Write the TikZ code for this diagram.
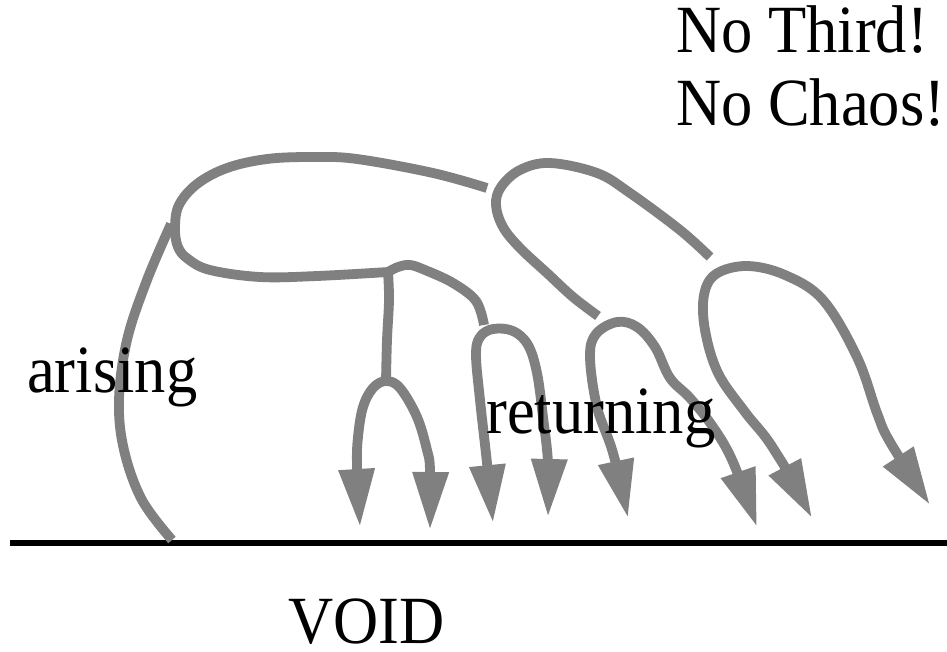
\documentclass[tikz,border=0pt]{standalone}
\usepackage{fontspec}
\setmainfont{Liberation Serif}
\usetikzlibrary{arrows.meta}
\definecolor{flowgray}{RGB}{128,128,128}
\newcommand{\tallword}[1]{\scalebox{1}[1.08]{#1}}
\begin{document}
\begin{tikzpicture}[x=1pt,y=-1pt,
  flow/.style={draw=flowgray, line width=9.8pt, line cap=butt, line join=round},
  onetip/.style={-{Triangle[width=34pt,length=58pt]}},
  twotips/.style={{Triangle[width=34pt,length=58pt]}-{Triangle[width=34pt,length=58pt]}},
  lbl/.style={font=\fontsize{62.5}{70}\selectfont, inner sep=0pt, text=black}]
\useasboundingbox (0,0) rectangle (947,651);
% named points
\coordinate (g0) at (10,543);
\coordinate (g1) at (947,543);
\coordinate (foot) at (172,540);
\coordinate (join) at (171,224);
\coordinate (arcEnd) at (487,188);
\coordinate (junc) at (388,272);
\coordinate (fork) at (386,381);
\coordinate (branchEnd) at (484,325);
\coordinate (tipA) at (360,527);
\coordinate (tipB) at (430,530);
\coordinate (tipC) at (493,523);
\coordinate (tipD) at (548,517);
\coordinate (tipE) at (628,518);
\coordinate (tipF) at (757,527);
\coordinate (tipG) at (812,518);
\coordinate (tipH) at (930,505);
\coordinate (sTop) at (710,257);
\coordinate (sLow) at (598,316);
% ground line
\draw[line width=5.5pt, black] (g0) -- (g1);
% arising
\draw[flow] plot[smooth, tension=0.6] coordinates {(foot) (142,500) (124,450) (119,400) (127,340) (147,280) (join)};
% big loop
\draw[flow] plot[smooth, tension=0.6] coordinates {(arcEnd) (433,173) (357,159) (313,157) (267,159) (227,168) (197,184) (179,205) (175,228) (178,247) (188,259) (210,270) (260,277) (317,276) (junc)};
% stem
\draw[flow] plot[smooth, tension=0.6] coordinates {(junc) (389,300) (387,340) (fork)};
% branch to hump 2
\draw[flow] plot[smooth, tension=0.6] coordinates {(junc) (398,267) (410,265) (425,270) (453,283) (476,301) (branchEnd)};
% fork
\draw[flow, twotips] plot[smooth, tension=0.6] coordinates {(tipA) (357,467) (358,437) (363,407) (373,388) (fork) (400,388) (417,417) (427,450) (430,470) (tipB)};
% hump 2
\draw[flow, twotips] plot[smooth, tension=0.6] coordinates {(tipC) (487,463) (480,400) (476,355) (480,337) (493,329) (513,331) (528,345) (537,373) (543,417) (548,463) (tipD)};
% S-curve
\draw[flow] plot[smooth, tension=0.6] coordinates {(sTop) (680,230) (630,193) (597,173) (550,163) (520,170) (501,187) (496,205) (503,227) (520,248) (547,273) (573,297) (sLow)};
% hump 3
\draw[flow, twotips] plot[smooth, tension=0.6] coordinates {(tipE) (613,453) (597,407) (590,357) (596,334) (617,322) (637,327) (655,347) (670,378) (690,398) (713,427) (733,462) (tipF)};
% hump 4
\draw[flow, twotips] plot[smooth, tension=0.6] coordinates {(tipG) (773,448) (745,412) (718,373) (705,330) (704,295) (716,274) (747,266) (785,275) (823,300) (857,357) (877,413) (890,442) (tipH)};
% labels
\node[lbl, anchor=base west] (third) at (676,52) {\tallword{No Third!}};
\node[lbl, anchor=base west] (chaos) at (676,125) {\tallword{No Chaos!}};
\node[lbl, anchor=base west] (arising) at (27,392) {\tallword{arising}};
\node[lbl, anchor=base west] (returning) at (486,433) {\tallword{returning}};
\node[lbl, anchor=base west] (void) at (288,643) {\tallword{VOID}};
\end{tikzpicture}
\end{document}
